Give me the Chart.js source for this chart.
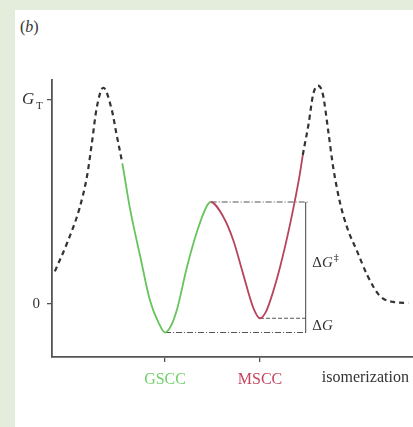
<!DOCTYPE html>
<html lang="en">
<head>
<meta charset="utf-8">
<title>Isomerization free energy</title>
<script src="https://cdn.jsdelivr.net/npm/chart.js@4.4.1/dist/chart.umd.min.js"></script>
<style>
  html, body { margin: 0; padding: 0; }
  body { background: #e4eddb; width: 413px; height: 427px; position: relative; overflow: hidden; }
  #panel { position: absolute; left: 15px; top: 10px; width: 398px; height: 417px; background: #fff; }
  #tag { position: absolute; left: 20px; top: 18px; font: 16px "Liberation Serif", serif; color: #333; }
  #wrap { position: absolute; left: 0; top: 0; width: 413px; height: 427px; }
</style>
</head>
<body>
<div id="panel"></div>
<div id="tag">(<i>b</i>)</div>
<div id="wrap"><canvas id="c" width="413" height="427"></canvas></div>
<script>
// reaction coordinate (GSCC = 0, MSCC = 1) and free energy (0 .. G_T = 1)
const leftDashX  = [-1.16, -1.03, -0.90, -0.82, -0.77, -0.72, -0.65, -0.56, -0.51, -0.45];
const leftDashY  = [0.16, 0.30, 0.47, 0.63, 0.79, 0.96, 1.06, 0.95, 0.83, 0.69];
const gsccX = [-0.45, -0.37, -0.26, -0.16, -0.07, 0, 0.07, 0.13, 0.23, 0.34, 0.44, 0.48];
const gsccY = [0.69, 0.47, 0.23, 0.02, -0.09, -0.14, -0.10, -0.02, 0.18, 0.36, 0.48, 0.50];
const msccX = [0.48, 0.61, 0.72, 0.82, 0.93, 1.0, 1.06, 1.11, 1.21, 1.32, 1.42, 1.45];
const msccY = [0.50, 0.43, 0.31, 0.15, -0.02, -0.07, -0.04, 0.02, 0.18, 0.40, 0.64, 0.73];
const rightDashX = [1.45, 1.51, 1.56, 1.61, 1.66, 1.72, 1.77, 1.84, 1.92, 2.02, 2.13, 2.26, 2.40, 2.56];
const rightDashY = [0.73, 0.88, 1.03, 1.07, 1.03, 0.84, 0.67, 0.50, 0.37, 0.26, 0.14, 0.04, 0.01, 0.005];

// energy gap markers
const barrierTop = 0.50;
const gsccMin = -0.14;
const msccMin = -0.07;
const gapX = 1.48;

const xTicks = [0, 1];
const xTickLabels = ['GSCC', 'MSCC'];
const xTickColors = ['#6fd06a', '#c4455e'];
const yTicks = [0, 1];
const yTickLabels = ['0', ''];

// one continuous curve, styled per stretch
const pieces = [[leftDashX, leftDashY], [gsccX, gsccY], [msccX, msccY], [rightDashX, rightDashY]];
const curvePts = [];
const ends = [];
pieces.forEach(([xs, ys], k) => {
  xs.forEach((x, i) => { if (k === 0 || i > 0) curvePts.push({ x: x, y: ys[i] }); });
  ends.push(curvePts.length - 1);
});
const pieceOf = i => ends.findIndex(e => i < e);
const pieceColor = ['#333', '#66c45c', '#b8435c', '#333'];
const pieceDash = [[5, 4], [], [], [5, 4]];
const pieceWidth = [2.2, 1.8, 1.8, 2.2];

const guide = (data, dash) => ({
  data: data, borderColor: '#555', borderWidth: 1.1, borderDash: dash,
  pointRadius: 0, tension: 0, fill: false
});

const labelsPlugin = {
  id: 'labels',
  afterDraw(chart) {
    const ctx = chart.ctx;
    const xs = chart.scales.x, ys = chart.scales.y;
    ctx.save();
    ctx.fillStyle = '#333';
    ctx.textBaseline = 'alphabetic';
    // G_T on the y axis
    const gy = ys.getPixelForValue(1);
    ctx.font = 'italic 17px "Liberation Serif", serif';
    ctx.fillText('G', 22, gy + 4);
    ctx.font = '11px "Liberation Serif", serif';
    ctx.fillText('T', 36, gy + 9);
    // x axis name
    ctx.font = '16px "Liberation Serif", serif';
    ctx.textBaseline = 'middle';
    ctx.fillText('isomerization', xs.getPixelForValue(1.65), 378);
    // delta G labels
    const lx = xs.getPixelForValue(1.55);
    ctx.font = '15px "Liberation Serif", serif';
    ctx.fillText('\u0394', lx, ys.getPixelForValue(0.20));
    ctx.fillText('\u0394', lx, ys.getPixelForValue(-0.11));
    const dw = ctx.measureText('\u0394').width;
    ctx.font = 'italic 15px "Liberation Serif", serif';
    ctx.fillText('G', lx + dw, ys.getPixelForValue(0.20));
    ctx.fillText('G', lx + dw, ys.getPixelForValue(-0.11));
    const gw = ctx.measureText('G').width;
    ctx.font = '10px "DejaVu Serif", serif';
    ctx.fillText('\u2021', lx + dw + gw + 1, ys.getPixelForValue(0.20) - 5);
    ctx.restore();
  }
};

new Chart(document.getElementById('c'), {
  type: 'line',
  data: {
    datasets: [
      {
        data: curvePts, pointRadius: 0, cubicInterpolationMode: 'monotone', fill: false,
        borderColor: '#333', borderWidth: 2,
        segment: {
          borderColor: c => pieceColor[pieceOf(c.p0DataIndex)],
          borderDash: c => pieceDash[pieceOf(c.p0DataIndex)],
          borderWidth: c => pieceWidth[pieceOf(c.p0DataIndex)]
        }
      },
      guide([{ x: gsccX[gsccX.length - 1], y: barrierTop }, { x: gapX + 0.02, y: barrierTop }], [6, 2, 1, 2]),
      guide([{ x: 0, y: gsccMin }, { x: gapX + 0.02, y: gsccMin }], [6, 2, 1, 2]),
      guide([{ x: 1, y: msccMin }, { x: gapX + 0.02, y: msccMin }], [4, 2]),
      guide([{ x: gapX, y: barrierTop }, { x: gapX, y: gsccMin }], [])
    ]
  },
  options: {
    responsive: false,
    animation: false,
    layout: { padding: { top: 80, left: 0, right: 0, bottom: 0 } },
    plugins: { legend: { display: false }, tooltip: { enabled: false } },
    scales: {
      x: {
        type: 'linear', min: -1.19, max: 2.61,
        afterBuildTicks: s => { s.ticks = xTicks.map(v => ({ value: v })); },
        afterFit: s => { s.height = 70; },
        ticks: {
          padding: 8,
          font: { family: '"Liberation Serif", serif', size: 16 },
          color: c => xTickColors[c.index],
          callback: (v, i) => xTickLabels[i]
        },
        grid: { drawOnChartArea: false, tickLength: 5, color: '#555', lineWidth: 1.3 },
        border: { color: '#555', width: 1.8 }
      },
      y: {
        type: 'linear', min: -0.26, max: 1.098,
        afterBuildTicks: s => { s.ticks = yTicks.map(v => ({ value: v })); },
        afterFit: s => { s.width = 52; },
        ticks: {
          padding: 7,
          font: { family: '"Liberation Serif", serif', size: 15 },
          color: '#333',
          callback: (v, i) => yTickLabels[i]
        },
        grid: { drawOnChartArea: false, tickLength: 5, color: '#555', lineWidth: 1.3 },
        border: { color: '#555', width: 1.8 }
      }
    }
  },
  plugins: [labelsPlugin]
});
</script>
</body>
</html>
